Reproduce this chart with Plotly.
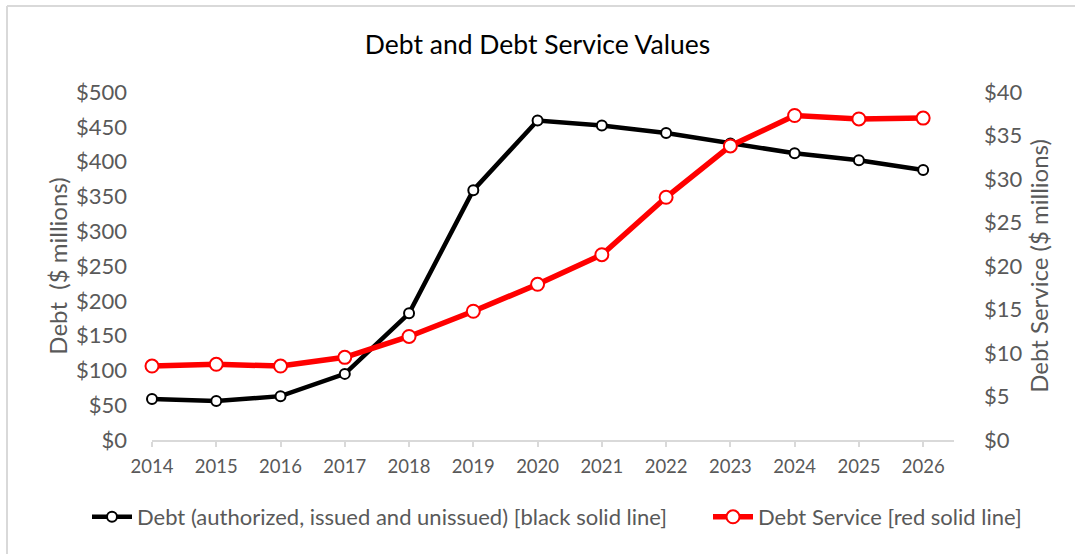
import plotly.graph_objects as go

# Fiscal years shown on the category axis
years = [2014, 2015, 2016, 2017, 2018, 2019, 2020, 2021, 2022, 2023, 2024, 2025, 2026]

# Debt outstanding, $ millions (left axis)
debt = [59, 56, 63, 95, 182, 359, 459, 452, 441, 426, 412, 402, 388]

# Annual debt service, $ millions (right axis)
debt_service = [8.5, 8.7, 8.5, 9.5, 11.9, 14.8, 17.9, 21.3, 27.9, 33.8, 37.3, 36.9, 37.0]

FONT = "Lato"
GRAY = "#595959"
AXIS_GRAY = "#d9d9d9"

fig = go.Figure()

fig.add_trace(go.Scatter(
    x=years, y=debt,
    name="Debt (authorized, issued and unissued) [black solid line]",
    mode="lines+markers",
    line=dict(color="black", width=4.5),
    marker=dict(symbol="circle", size=10, color="white",
                line=dict(color="black", width=2)),
    cliponaxis=False,
    yaxis="y",
    legend="legend",
))

fig.add_trace(go.Scatter(
    x=years, y=debt_service,
    name="Debt Service [red solid line]",
    mode="lines+markers",
    line=dict(color="#ff0000", width=5.5),
    marker=dict(symbol="circle", size=13, color="white",
                line=dict(color="#ff0000", width=2)),
    cliponaxis=False,
    yaxis="y2",
    legend="legend2",
))

legend_common = dict(
    orientation="h",
    xref="container", yref="container",
    xanchor="left",
    y=1 - 517 / 554, yanchor="middle",
    font=dict(family=FONT, size=22, color=GRAY),
    itemwidth=40,
    bgcolor="rgba(0,0,0,0)",
)

fig.update_layout(
    width=1075, height=554,
    margin=dict(l=152, r=121, t=92, b=114, autoexpand=False),
    paper_bgcolor="white",
    plot_bgcolor="white",
    font=dict(family=FONT, color=GRAY),
    title=dict(
        text="Debt and Debt Service Values",
        x=0.5, xref="container", xanchor="center",
        y=1 - 45 / 554, yref="container", yanchor="middle",
        font=dict(family=FONT, size=26.5, color="black"),
    ),
    xaxis=dict(
        range=[2014, 2026.48],
        tickvals=years,
        ticktext=[str(y) for y in years],
        showgrid=False, zeroline=False,
        showline=True, linecolor=AXIS_GRAY, linewidth=1.5,
        ticks="outside", ticklen=5, tickcolor=AXIS_GRAY, tickwidth=1.5,
        ticklabelstandoff=4,
        tickfont=dict(family=FONT, size=18.5, color=GRAY),
    ),
    yaxis=dict(
        range=[0, 500], dtick=50, tickprefix="$",
        showgrid=False, zeroline=False, showline=False,
        ticklabelstandoff=24,
        tickfont=dict(family=FONT, size=22, color=GRAY),
        title=dict(text="Debt  ($ millions)", standoff=1,
                   font=dict(family=FONT, size=24, color=GRAY)),
    ),
    yaxis2=dict(
        range=[0, 40], dtick=5, tickprefix="$",
        overlaying="y", side="right",
        showgrid=False, zeroline=False, showline=False,
        ticklabelstandoff=29,
        tickfont=dict(family=FONT, size=22, color=GRAY),
        title=dict(text="Debt Service ($ millions)", standoff=9,
                   font=dict(family=FONT, size=24, color=GRAY)),
    ),
    legend=dict(legend_common, x=87 / 1075),
    legend2=dict(legend_common, x=708 / 1075),
    showlegend=True,
)

# Light frame around the chart area (top and left edges)
fig.add_shape(type="line", xref="paper", yref="paper",
              x0=(7 - 152) / 802, x1=(1075 - 152) / 802,
              y0=(440 - 6) / 348, y1=(440 - 6) / 348,
              line=dict(color=AXIS_GRAY, width=2), layer="below")
fig.add_shape(type="line", xref="paper", yref="paper",
              x0=(7 - 152) / 802, x1=(7 - 152) / 802,
              y0=(440 - 6) / 348, y1=(440 - 554) / 348,
              line=dict(color=AXIS_GRAY, width=2), layer="below")

fig.write_html("out.html")
